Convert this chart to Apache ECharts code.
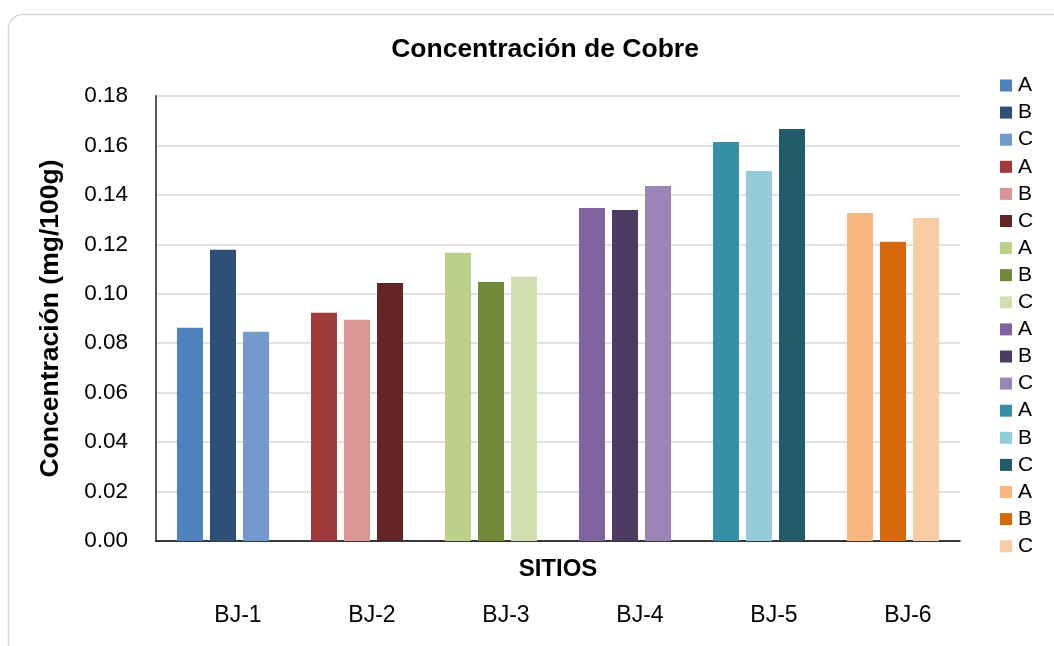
<!DOCTYPE html>
<html><head><meta charset="utf-8">
<script src="https://cdn.jsdelivr.net/npm/echarts@6/dist/echarts.min.js"></script>
<style>html,body{margin:0;padding:0;background:#fff}#c{width:1054px;height:646px}</style>
</head><body><div id="c"></div>
<script>
const categories = ['BJ-1','BJ-2','BJ-3','BJ-4','BJ-5','BJ-6'];
const letters = ['A','B','C'];
const valuesA = [0.0863, 0.0923, 0.1166, 0.1347, 0.1614, 0.1327];
const valuesB = [0.1178, 0.0895, 0.1048, 0.1339, 0.1497, 0.1210];
const valuesC = [0.0846, 0.1044, 0.1069, 0.1436, 0.1667, 0.1307];
const colors = [
  ['#4f81bd','#2d4f78','#739acc'],
  ['#9f3b3b','#db9595','#632425'],
  ['#bcd08b','#718a39','#d0dfad'],
  ['#8064a2','#4d3b62','#9b85b6'],
  ['#378ea7','#95ccdc','#215a69'],
  ['#f9b780','#d5680b','#facca5']
];
const yTicks = ['0.00','0.02','0.04','0.06','0.08','0.10','0.12','0.14','0.16','0.18'];
const vals = [valuesA, valuesB, valuesC];

const series = [];
const legendNames = [];
categories.forEach((cat, i) => {
  letters.forEach((L, j) => {
    const name = L + '_' + (i + 1);
    legendNames.push(name);
    const data = categories.map((c, k) => k === i ? vals[j][i] : '-');
    series.push({
      name: name, type: 'bar', stack: L, data: data,
      barWidth: 26, barGap: '27%',
      itemStyle: { color: colors[i][j] }
    });
  });
});

const chart = echarts.init(document.getElementById('c'), null, {renderer: 'canvas'});
const font = 'Liberation Sans, Arial, sans-serif';
chart.setOption({
  animation: false,
  backgroundColor: '#fff',
  textStyle: { fontFamily: font },
  graphic: [{
    type: 'rect', left: 6, top: 12, z: -10,
    shape: { width: 1060, height: 650, r: 14 },
    style: { fill: 'none', stroke: '#d9d9d9', lineWidth: 1.5 }
  }],
  title: {
    text: 'Concentración de Cobre', left: 540, top: 31, textAlign: 'center',
    textStyle: { fontFamily: font, fontSize: 26.5, fontWeight: 'bold', color: '#000' }
  },
  legend: {
    orient: 'vertical', left: 995, top: 70,
    data: legendNames,
    itemWidth: 12, itemHeight: 12, itemGap: 6.1,
    icon: 'rect',
    formatter: n => n.charAt(0),
    textStyle: { fontFamily: font, fontSize: 21, color: '#000', lineHeight: 20, padding: [0,0,0,1] }
  },
  grid: { left: 156, right: 94, top: 96, bottom: 105, containLabel: false, outerBoundsMode: 'none' },
  xAxis: {
    type: 'category', data: categories,
    name: 'SITIOS', nameLocation: 'middle', nameGap: 16, nameMoveOverlap: false,
    nameTextStyle: { fontFamily: font, fontSize: 24, fontWeight: 'bold', color: '#000' },
    axisLine: { lineStyle: { color: '#000', width: 1.5 } },
    axisTick: { show: false },
    axisLabel: {
      margin: 63,
      formatter: v => '{a|' + v + '}',
      rich: { a: { fontFamily: font, fontSize: 23, color: '#000', padding: [0,0,0,30] } }
    }
  },
  yAxis: {
    type: 'value', min: 0, max: 0.18, interval: 0.02,
    name: 'Concentración (mg/100g)', nameLocation: 'middle', nameGap: 92,
    nameRotate: 90, nameMoveOverlap: false,
    nameTextStyle: { fontFamily: font, fontSize: 26.5, fontWeight: 'bold', color: '#000' },
    axisLine: { show: true, lineStyle: { color: '#595959', width: 2 } },
    axisTick: { show: false },
    axisLabel: {
      margin: 28, fontFamily: font, fontSize: 22.5, color: '#000',
      formatter: (v) => yTicks[Math.round(v / 0.02)]
    },
    splitLine: { lineStyle: { color: '#d9d9d9', width: 1.5 } }
  },
  series: series
});
</script></body></html>
